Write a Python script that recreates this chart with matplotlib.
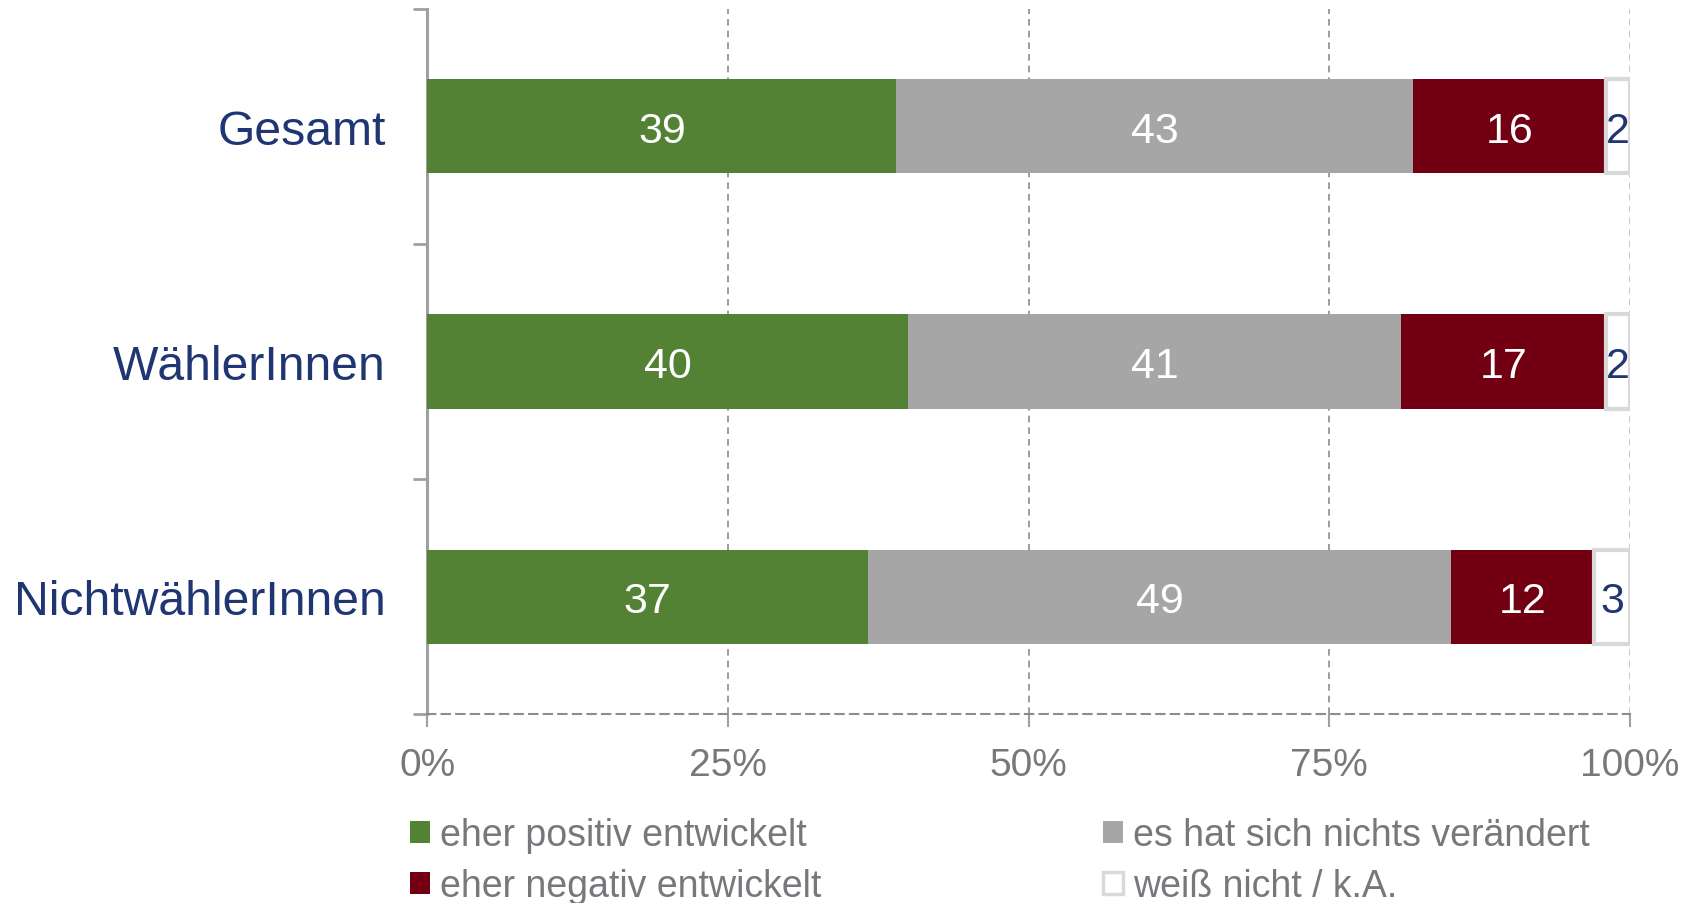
import matplotlib.pyplot as plt
import numpy as np
from matplotlib.patches import Patch

plt.rcParams['font.family'] = ['Liberation Sans', 'DejaVu Sans']

# Data
categories = ['Gesamt', 'WählerInnen', 'NichtwählerInnen']
series = ['eher positiv entwickelt', 'es hat sich nichts verändert',
          'eher negativ entwickelt', 'weiß nicht / k.A.']
positiv = [39, 40, 37]
nichts = [43, 41, 49]
negativ = [16, 17, 12]
weiss_nicht = [2, 2, 3]
xticks = [0, 25, 50, 75, 100]

colors = ['#548235', '#A6A6A6', '#720012', '#FFFFFF']
edge_colors = ['none', 'none', 'none', '#D9D9D9']
text_colors = ['white', 'white', 'white', '#1F3672']

values = np.array([positiv, nichts, negativ, weiss_nicht], dtype=float)
shares = values / values.sum(axis=0) * 100  # bars are drawn as shares of 100%

fig = plt.figure(figsize=(16.96, 9.04), dpi=100)
ax = fig.add_axes([0.252, 0.209, 0.709, 0.780])

y = np.arange(len(categories))
left = np.zeros(len(categories))
handles = []
for i, name in enumerate(series):
    lw = 3 if edge_colors[i] != 'none' else 0
    ax.barh(y, shares[i], left=left, height=0.4, color=colors[i],
            edgecolor=edge_colors[i], linewidth=lw, zorder=3)
    for j in range(len(categories)):
        ax.text(left[j] + shares[i][j] / 2, y[j], f"{int(values[i][j])}",
                ha='center', va='center_baseline', fontsize=31,
                color=text_colors[i], zorder=4)
    left += shares[i]
    handles.append(Patch(facecolor=colors[i], edgecolor=edge_colors[i] if edge_colors[i] != 'none' else colors[i],
                         linewidth=2.5 if edge_colors[i] != 'none' else 0))

ax.set_xlim(0, 100)
ax.set_ylim(len(categories) - 0.5, -0.5)

# y axis: category labels, ticks at band boundaries
ax.set_yticks(np.arange(len(categories) + 1) - 0.5)
ax.set_yticklabels([])
ax.set_yticks(y, minor=True)
ax.set_yticklabels(categories, minor=True, fontsize=34.7, color='#1F3672')
ax.tick_params(axis='y', which='major', length=10, width=2, color='#A0A0A0', direction='out')
ax.tick_params(axis='y', which='minor', length=0, pad=30)

# x axis
ax.set_xticks(xticks)
ax.set_xticklabels([f"{t}%" for t in xticks], fontsize=28, color='#76787B')
ax.tick_params(axis='x', length=9, width=1.5, color='#A0A0A0', pad=15)
for t in ax.xaxis.get_major_ticks():
    t.tick1line.set_linestyle((0, (2, 2)))

ax.grid(True, axis='x', linestyle=(0, (4, 3)), color='#8C8C8C', linewidth=1.2, zorder=0)
ax.xaxis.get_gridlines()[-1].set_color('#BFBFBF')
ax.xaxis.get_gridlines()[0].set_visible(False)

for s in ['top', 'right']:
    ax.spines[s].set_visible(False)
ax.spines['left'].set_color('#A0A0A0')
ax.spines['left'].set_linewidth(2.2)
ax.spines['bottom'].set_color('#8C8C8C')
ax.spines['bottom'].set_linewidth(1.5)
ax.spines['bottom'].set_linestyle((0, (4, 3)))

# legend: two columns, entries ordered row-wise
order = [0, 2, 1, 3]
fig.legend([handles[k] for k in order], [series[k] for k in order],
           loc='upper left', bbox_to_anchor=(0.242, 0.095), ncol=2,
           frameon=False, fontsize=27, labelcolor='#76787B',
           handlelength=0.53, handleheight=0.53, handletextpad=0.27,
           columnspacing=7.5, labelspacing=0.4, borderpad=0, borderaxespad=0)

fig.savefig('out.png', dpi=100)
